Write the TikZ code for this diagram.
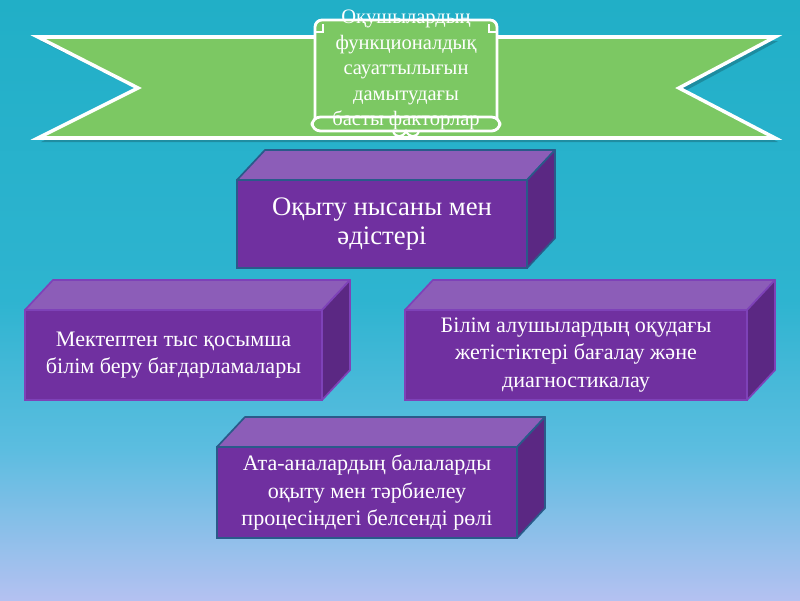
\documentclass[tikz,border=0pt]{standalone}
\usepackage{fontspec}
\setmainfont{Liberation Serif}

\definecolor{bgtop}{HTML}{21AFC7}
\definecolor{bgmid}{HTML}{2EB4D0}
\definecolor{bglow}{HTML}{5CBDE0}
\definecolor{bgbot}{HTML}{B4C1F1}
\definecolor{ribbon}{HTML}{7CC863}
\definecolor{facefront}{HTML}{7030A0}
\definecolor{facetop}{HTML}{8C5DB8}
\definecolor{faceside}{HTML}{5B2883}
\definecolor{edgeblue}{HTML}{2A5A8A}
\definecolor{edgepurple}{HTML}{7E42B8}

\pgfdeclareverticalshading{bgshade}{100bp}{color(0bp)=(bgbot); color(25bp)=(bgbot);
  color(37.5bp)=(bglow); color(50bp)=(bgmid); color(75bp)=(bgtop); color(100bp)=(bgtop)}

\tikzset{
  prism/.style={draw=#1, line width=1.2pt, fill=facefront, text=white,
    align=center, inner sep=2pt, outer sep=0pt,
    font=\fontsize{15.7}{19.6}\selectfont},
  prism/.default=edgeblue,
  scrollline/.style={draw=white, line width=2pt, fill=ribbon},
}

\begin{document}
\begin{tikzpicture}[x=0.025cm,y=-0.025cm]
\useasboundingbox (0,0) rectangle (800,600);
\shade[shading=bgshade] (0,0) rectangle (800,600);

% ribbon
\fill[black, opacity=0.2] (41,41) -- (778,41) -- (683,92) -- (778,142) -- (41,142) -- (143,92) -- cycle;
\filldraw[fill=ribbon, draw=white, line width=2.5pt] (38,37) -- (775,37) -- (679,88) -- (775,138) -- (38,138) -- (138,88) -- cycle;

% scroll
\filldraw[scrollline, rounded corners=5] (315,126) |- (497,20) -- (497,126);
\draw[white, line width=1.5pt] (315,32) -- (323,32) -- (323,24);
\draw[white, line width=1.5pt] (497,32) -- (489,32) -- (489,24);
\filldraw[scrollline, rounded corners=6] (312,117) rectangle (500,131);
\draw[white, line width=1.5pt] (393,131) .. controls (395,138) and (403,138) .. (406,131)
  .. controls (409,138) and (417,138) .. (419,131);
\node[text=white, align=center, font=\fontsize{14.6}{18.2}\selectfont] (title) at (406,70)
  {Оқушылардың\\функционалдық\\сауаттылығын\\дамытудағы\\басты факторлар};

% boxes
\node[prism, minimum width=7.25cm, minimum height=2.2cm, font=\fontsize{19}{20.6}\selectfont] (methods) at (382,224)
  {Оқыту нысаны мен\\әдістері};
\node[prism=edgepurple, minimum width=7.425cm, minimum height=2.25cm] (extra) at (173.5,355)
  {Мектептен тыс қосымша\\білім беру бағдарламалары};
\node[prism=edgepurple, minimum width=8.55cm, minimum height=2.25cm] (assess) at (576,355)
  {Білім алушылардың оқудағы\\жетістіктері бағалау және\\диагностикалау};
\node[prism, minimum width=7.5cm, minimum height=2.275cm] (parents) at (367,492.5)
  {Ата-аналардың балаларды\\оқыту мен тәрбиелеу\\процесіндегі белсенді рөлі};

\foreach \b/\c in {methods/edgeblue, extra/edgepurple, assess/edgepurple, parents/edgeblue}{
  \filldraw[fill=facetop, draw=\c, line width=1.2pt, line join=round]
    (\b.north west) -- ([shift={(28,-30)}]\b.north west) -- ([shift={(28,-30)}]\b.north east) -- (\b.north east) -- cycle;
  \filldraw[fill=faceside, draw=\c, line width=1.2pt, line join=round]
    (\b.north east) -- ([shift={(28,-30)}]\b.north east) -- ([shift={(28,-30)}]\b.south east) -- (\b.south east) -- cycle;
}
\end{tikzpicture}
\end{document}
